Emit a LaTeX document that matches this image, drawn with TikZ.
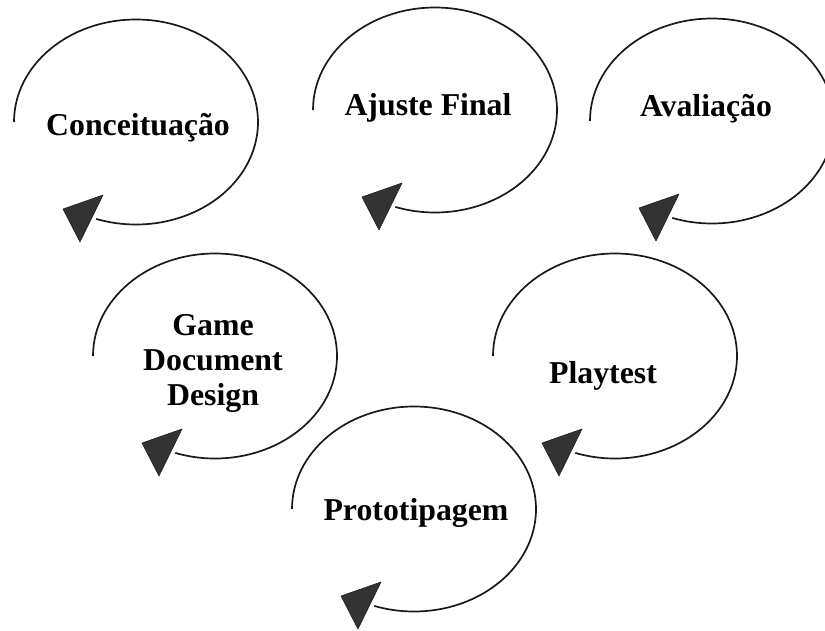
\documentclass[tikz,border=0pt]{standalone}
\usepackage{fontspec}
\setmainfont{Liberation Serif}
\begin{document}
\begin{tikzpicture}[x=1pt,y=-1pt]
\tikzset{
  loopline/.style={line width=1.7pt, draw=black!90},
  headtri/.style={fill=black!80, draw=black!88, line width=0.6pt, line join=round},
  lbl/.style={font=\fontsize{31.8}{35}\selectfont\bfseries, inner sep=0pt, align=center},
  pics/cycle/.style={code={
    \draw[loopline] (-122,0) arc[start angle=180, end angle=469, x radius=122, y radius=102.5];
    \filldraw[headtri] (-56,120) -- (-73,87) -- (-33,73) -- cycle;
  }}
}
\useasboundingbox (0,0) rectangle (825,630);
\pic at (136,122) {cycle};
\pic at (435,110) {cycle};
\pic at (712,121) {cycle};
\pic at (215,356) {cycle};
\pic at (615,356) {cycle};
\pic at (414,509) {cycle};
\node[lbl, anchor=base] (conc) at (138,135) {Conceituação};
\node[lbl, anchor=base] (ajuste) at (428,115) {Ajuste Final};
\node[lbl, anchor=base] (aval) at (706,116) {Avaliação};
\node[lbl] (gdd) at (213,363) {Game\\Document\\Design};
\node[lbl, anchor=base] (play) at (603,383) {Playtest};
\node[lbl, anchor=base] (proto) at (416,520) {Prototipagem};
\end{tikzpicture}
\end{document}
